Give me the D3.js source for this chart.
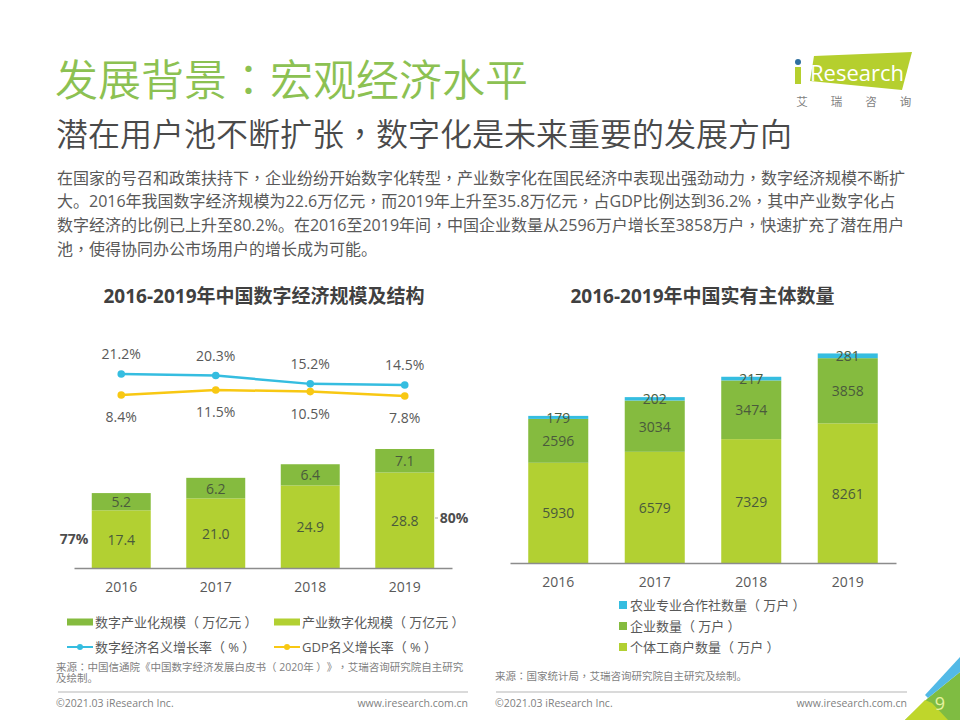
<!DOCTYPE html>
<html>
<head>
<meta charset="utf-8">
<script src="https://cdn.jsdelivr.net/npm/d3@7"></script>
<style>
  html, body { margin: 0; padding: 0; background: #fff; }
  svg { display: block; }
  text {
    font-family: "Open Sans", "Noto Sans CJK SC", sans-serif;
    text-spacing-trim: space-all;
    font-kerning: none;
    font-feature-settings: "palt" 0, "halt" 0, "chws" 0;
  }
  .punct { font-family: "Noto Sans CJK TC", sans-serif; }
</style>
</head>
<body>
<div id="slide"></div>
<script>
// left chart
var years = ["2016", "2017", "2018", "2019"];
var industryDigital = [17.4, 21.0, 24.9, 28.8];
var digitalIndustry = [5.2, 6.2, 6.4, 7.1];
var digitalGrowth = [21.2, 20.3, 15.2, 14.5];
var gdpGrowth = [8.4, 11.5, 10.5, 7.8];

// right chart
var selfEmployed = [5930, 6579, 7329, 8261];
var enterprises = [2596, 3034, 3474, 3858];
var coops = [179, 202, 217, 281];

var bodyLines = [
  "在国家的号召和政策扶持下，企业纷纷开始数字化转型，产业数字化在国民经济中表现出强劲动力，数字经济规模不断扩",
  "大。2016年我国数字经济规模为22.6万亿元，而2019年上升至35.8万亿元，占GDP比例达到36.2%，其中产业数字化占",
  "数字经济的比例已上升至80.2%。在2016至2019年间，中国企业数量从2596万户增长至3858万户，快速扩充了潜在用户",
  "池，使得协同办公市场用户的增长成为可能。"
];

var lightGreen = "#b2d032", midGreen = "#85bb3f", blue = "#35bde0", yellow = "#f8c813";
var textGrey = "#595959", barText = "#4a5a3c";

var svg = d3.select("#slide").append("svg").attr("width", 960).attr("height", 720);

// comma and colon come from the TC face (centred), brackets get some air inside
function label(x, y, str, size, color, anchor) {
  var t = svg.append("text")
    .attr("x", x).attr("y", y)
    .attr("font-size", size)
    .attr("fill", color)
    .attr("text-anchor", anchor || "start");
  var prev = "";
  str.split(/([，：（）])/).forEach(function(part) {
    if (!part) return;
    var gap = prev === "（" || part === "）" ? 0.25 * size : 0;
    t.append("tspan")
      .attr("class", part === "，" || part === "：" ? "punct" : null)
      .attr("dx", gap)
      .text(part);
    prev = part;
  });
  return t;
}

// header
label(55, 96, "发展背景：宏观经济水平", 43, "#8cc152").attr("font-weight", 350);
label(56, 146, "潜在用户池不断扩张，数字化是未来重要的发展方向", 32, "#4a4a4a").attr("font-weight", 350);
var bodyY = [184, 207, 231, 255];
bodyLines.forEach(function(s, i) {
  label(57, bodyY[i], s, 16, "#595959");
});

// logo
svg.append("polygon").attr("points", "814,56 912,52 902,90 810,81").attr("fill", "#b5cf2e");
svg.append("rect").attr("x", 795).attr("y", 67).attr("width", 6).attr("height", 17).attr("fill", "#b5cf2e");
svg.append("circle").attr("cx", 798).attr("cy", 62).attr("r", 3).attr("fill", "#2f6f9f");
label(810, 81, "Research", 22, "#fff");
["艾", "瑞", "咨", "询"].forEach(function(s, i) {
  label(802 + i * 34.5, 106, s, 11.5, "#7f7f7f", "middle");
});

// chart titles
label(264, 303, "2016-2019年中国数字经济规模及结构", 19, "#404040", "middle").attr("font-weight", 700);
label(702.5, 303, "2016-2019年中国实有主体数量", 19, "#404040", "middle").attr("font-weight", 700);

// stacked bars shared by both charts
function stackedBars(rows, keys, colors, x, y, fmt) {
  var series = d3.stack().keys(keys)(rows);
  var groups = svg.append("g").selectAll("g").data(series).enter().append("g")
    .attr("fill", function(d, i) { return colors[i]; });
  groups.selectAll("rect").data(function(d) { return d; }).enter().append("rect")
    .attr("x", function(d) { return x(d.data.year); })
    .attr("width", x.bandwidth())
    .attr("y", function(d) { return y(d[1]); })
    .attr("height", function(d) { return y(d[0]) - y(d[1]); });
  groups.selectAll("text").data(function(d) { return d; }).enter().append("text")
    .attr("x", function(d) { return x(d.data.year) + x.bandwidth() / 2; })
    .attr("y", function(d) { return (y(d[0]) + y(d[1])) / 2 + 5.5; })
    .attr("text-anchor", "middle")
    .attr("font-size", 14)
    .attr("fill", barText)
    .text(function(d) { return fmt(d[1] - d[0]); });
}

function baseAxis(x, yPos) {
  var g = svg.append("g")
    .attr("transform", "translate(0," + yPos + ")")
    .call(d3.axisBottom(x).tickSize(0).tickPadding(14));
  g.select(".domain").attr("stroke", "#8c8c8c").attr("stroke-width", 1.5);
  g.selectAll("text")
    .attr("font-size", 14)
    .attr("fill", textGrey);
  g.attr("font-family", null);
}

// left chart
var xL = d3.scaleBand().domain(years).range([74, 452]).paddingInner(0.376).paddingOuter(0.188);
var yL = d3.scaleLinear().domain([0, 40]).range([568, 435.4]);
var leftRows = years.map(function(y, i) {
  return { year: y, industry: industryDigital[i], digital: digitalIndustry[i] };
});
stackedBars(leftRows, ["industry", "digital"], [lightGreen, midGreen], xL, yL, d3.format(".1f"));
baseAxis(xL, 568);
label(74, 544, "77%", 14, "#4d4d4d", "middle").attr("font-weight", 700);
label(454, 523, "80%", 14, "#4d4d4d", "middle").attr("font-weight", 700);
svg.append("line").attr("x1", 435).attr("x2", 438).attr("y1", 518).attr("y2", 518).attr("stroke", "#a6a6a6");

// growth lines
var yG = d3.scaleLinear().domain([0, 25]).range([408.8, 367.8]);
function growthLine(values, color, labelDy) {
  var cx = function(d, i) { return xL(years[i]) + xL.bandwidth() / 2; };
  var line = d3.line().x(cx).y(function(d) { return yG(d); });
  var g = svg.append("g");
  g.append("path").datum(values).attr("d", line)
    .attr("fill", "none").attr("stroke", color).attr("stroke-width", 2.5);
  g.selectAll("circle").data(values).enter().append("circle")
    .attr("cx", cx)
    .attr("cy", function(d) { return yG(d); })
    .attr("r", 3.8).attr("fill", color);
  g.selectAll("text").data(values).enter().append("text")
    .attr("x", cx)
    .attr("y", function(d) { return yG(d) + labelDy; })
    .attr("text-anchor", "middle")
    .attr("font-size", 14)
    .attr("fill", textGrey)
    .text(function(d) { return d.toFixed(1) + "%"; });
}
growthLine(digitalGrowth, blue, -15);
growthLine(gdpGrowth, yellow, 27);

// right chart
var xR = d3.scaleBand().domain(years).range([510, 896]).paddingInner(0.378).paddingOuter(0.189);
var yR = d3.scaleLinear().domain([0, 13000]).range([563, 343.3]);
var rightRows = years.map(function(y, i) {
  return { year: y, self: selfEmployed[i], ent: enterprises[i], coop: coops[i] };
});
stackedBars(rightRows, ["self", "ent", "coop"], [lightGreen, midGreen, blue], xR, yR, d3.format("d"));
baseAxis(xR, 563);

// left legend
function legendBar(x, y, color, str) {
  svg.append("rect").attr("x", x).attr("y", y - 3.5).attr("width", 26).attr("height", 7).attr("fill", color);
  label(x + 28, y + 5, str, 13, textGrey);
}
function legendLine(x, y, color, str) {
  svg.append("line").attr("x1", x).attr("x2", x + 26).attr("y1", y).attr("y2", y)
    .attr("stroke", color).attr("stroke-width", 2);
  svg.append("circle").attr("cx", x + 13).attr("cy", y).attr("r", 3).attr("fill", color);
  label(x + 28, y + 5, str, 13, textGrey);
}
legendBar(67, 622, midGreen, "数字产业化规模（万亿元）");
legendBar(274, 622, lightGreen, "产业数字化规模（万亿元）");
legendLine(67, 647, blue, "数字经济名义增长率（%）");
legendLine(274, 647, yellow, "GDP名义增长率（%）");

// right legend
function legendSquare(y, color, str) {
  svg.append("rect").attr("x", 619).attr("y", y - 4).attr("width", 8).attr("height", 8).attr("fill", color);
  label(630, y + 5, str, 13, textGrey);
}
legendSquare(605, blue, "农业专业合作社数量（万户）");
legendSquare(626, midGreen, "企业数量（万户）");
legendSquare(647, lightGreen, "个体工商户数量（万户）");

// sources and footer, the two source lines live in one text element
label(56, 670.5, "来源：中国信通院《中国数字经济发展白皮书（2020年）》，艾瑞咨询研究院自主研究", 10.5, "#7f7f7f")
  .append("tspan").attr("x", 56).attr("dy", 11.5).text("及绘制。");
label(495, 680, "来源：国家统计局，艾瑞咨询研究院自主研究及绘制。", 10.5, "#7f7f7f");
[[58, 468], [496, 907]].forEach(function(r) {
  svg.append("line").attr("x1", r[0]).attr("x2", r[1]).attr("y1", 692).attr("y2", 692)
    .attr("stroke", "#b5b5b5").attr("stroke-width", 1.2);
});
label(56, 707, "©2021.03 iResearch Inc.", 10.5, "#7f7f7f");
label(468, 707, "www.iresearch.com.cn", 10.5, "#7f7f7f", "end");
label(495, 707, "©2021.03 iResearch Inc.", 10.5, "#7f7f7f");
label(907, 707, "www.iresearch.com.cn", 10.5, "#7f7f7f", "end");

// page corner
svg.append("polygon").attr("points", "960,672 928,698 905,720 960,720").attr("fill", "#7fbc42");
svg.append("polygon").attr("points", "925,700 905,720 948,720 932,703").attr("fill", "#bfd62b");
svg.append("polygon").attr("points", "960,657 925,695 928,698 960,672").attr("fill", "#52b9e6");
label(940, 709.5, "9", 18, "#e8f2a0", "middle");
</script>
</body>
</html>
